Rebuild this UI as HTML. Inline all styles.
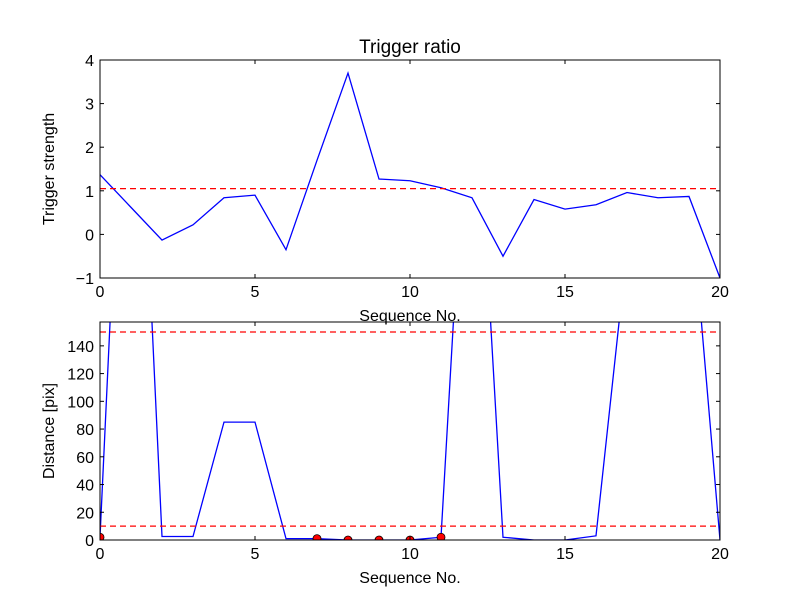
<!DOCTYPE html>
<html><head><meta charset="utf-8"><style>
body{margin:0;background:#fff}
svg text{font-family:"Liberation Sans","DejaVu Sans",sans-serif;fill:#000}
</style></head><body>
<svg id="c" width="800" height="600" xmlns="http://www.w3.org/2000/svg"></svg>
<script>
const seqX=[0,1,2,3,4,5,6,7,8,9,10,11,12,13,14,15,16,17,18,19,20];
const ratioVals=[1.37,0.62,-0.13,0.22,0.84,0.9,-0.35,1.7,3.7,1.27,1.23,1.07,0.84,-0.5,0.8,0.58,0.68,0.96,0.84,0.87,-1];
const ratioThreshold=[1.05];
const distVals=[2,480,2.5,2.5,85,85,1,1,0,0,0,2,390,2,0,0,3,210,300,262,0];
const distThresholds=[150,10];
const dotIdx=[0,7,8,9,10,11];
const xTicks=[0,5,10,15,20];
const ratioTicks=[-1,0,1,2,3,4];
const distTicks=[0,20,40,60,80,100,120,140];
const svg=document.getElementById('c');
const NS='http://www.w3.org/2000/svg';
function mk(t,a,p){const e=document.createElementNS(NS,t);for(const k in a)e.setAttribute(k,a[k]);(p||svg).appendChild(e);return e;}
function panel(name,top,bot,ymin,ymax,yt,ylabel,title){
 const L=100,R=720;
 const sx=v=>L+(v-0)/(20-0)*(R-L);
 const sy=v=>bot-(v-ymin)/(ymax-ymin)*(bot-top);
 const g=mk('g',{});
 
 
 const cp=mk('clipPath',{id:'cp'+name},g);mk('rect',{x:L,y:top,width:R-L,height:bot-top},cp);
 return {g,sx,sy,L,R,top,bot,yt,ylabel,title,name};
}
function axes(P){
 const {g,sx,sy,L,R,top,bot}=P;
 const fr=mk('rect',{x:L,y:top,width:R-L,height:bot-top,fill:'none',stroke:'#000','stroke-width':1});
 
 xTicks.forEach(t=>{const x=sx(t);
  mk('line',{x1:x,x2:x,y1:bot,y2:bot-4,stroke:'#000'},g);mk('line',{x1:x,x2:x,y1:top,y2:top+4,stroke:'#000'},g);
  const tx=mk('text',{x:x,y:bot+19,'text-anchor':'middle','font-size':16},g);tx.textContent=t;
  });
 P.yt.forEach(t=>{const y=sy(t);
  mk('line',{x1:L,x2:L+4,y1:y,y2:y,stroke:'#000'},g);mk('line',{x1:R,x2:R-4,y1:y,y2:y,stroke:'#000'},g);
  const tx=mk('text',{x:L-6,y:y+6,'text-anchor':'end','font-size':16},g);tx.textContent=t<0?'\u2212'+(-t):t;
  });
 const xl=mk('text',{x:(L+R)/2,y:bot+43,'text-anchor':'middle','font-size':16},g);xl.textContent='Sequence No.';
 
 const yl=mk('text',{x:0,y:0,'text-anchor':'middle','font-size':16,transform:`translate(${L-46},${(top+bot)/2}) rotate(-90)`},g);yl.textContent=P.ylabel;
 
 if(P.title){const t=mk('text',{x:(L+R)/2,y:top-7,'text-anchor':'middle','font-size':19},g);t.textContent=P.title;
  }
}
function line(P,vals,nm){
 const pts=seqX.map((x,i)=>P.sx(x)+','+P.sy(vals[i])).join(' ');
 const l=mk('polyline',{points:pts,fill:'none',stroke:'#0000ff','stroke-width':1.3,'clip-path':`url(#cp${P.name})`},P.g);
 
}
function hline(P,v,nm){
 const l=mk('line',{x1:P.L,x2:P.R,y1:P.sy(v),y2:P.sy(v),stroke:'#ff0000','stroke-width':1.3,'stroke-dasharray':'6,4'},P.g);
 
}
const P1=panel('ratio-panel',60,278,-1,4,ratioTicks,'Trigger strength','Trigger ratio');
line(P1,ratioVals,'trigger-ratio-line');
ratioThreshold.forEach(v=>hline(P1,v,'ratio-threshold-line'));
axes(P1);
const P2=panel('distance-panel',322,540,0,157.2,distTicks,'Distance [pix]',null);
line(P2,distVals,'distance-line');
distThresholds.forEach(v=>hline(P2,v,'distance-threshold-line'));
dotIdx.forEach(i=>{const c=mk('circle',{cx:P2.sx(seqX[i]),cy:P2.sy(distVals[i]),r:4,fill:'#ff0000',stroke:'#000','stroke-width':0.8,'clip-path':'url(#cpdistance-panel)'},P2.g);
 });
axes(P2);
</script>
</body></html>
